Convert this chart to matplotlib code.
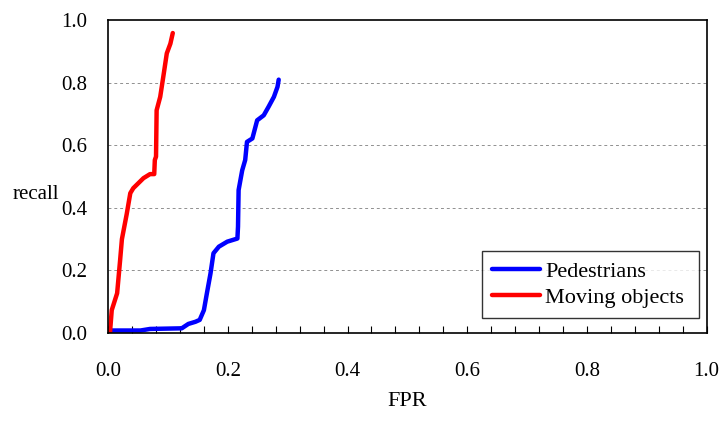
import matplotlib
matplotlib.use("Agg")
import matplotlib.pyplot as plt
import numpy as np

# FPR / recall
ped_fpr = [0.003, 0.054, 0.070, 0.123, 0.134, 0.146, 0.153, 0.160, 0.165, 0.171,
           0.176, 0.185, 0.199, 0.216, 0.217, 0.218, 0.224, 0.229, 0.232, 0.241,
           0.249, 0.260, 0.268, 0.277, 0.283, 0.285]
ped_recall = [0.008, 0.008, 0.013, 0.015, 0.029, 0.036, 0.042, 0.073, 0.127, 0.190,
              0.255, 0.276, 0.292, 0.302, 0.340, 0.457, 0.520, 0.553, 0.611, 0.622,
              0.680, 0.696, 0.723, 0.755, 0.787, 0.810]

mov_fpr = [0.003, 0.006, 0.015, 0.020, 0.023, 0.031, 0.037, 0.042, 0.059, 0.070,
           0.077, 0.078, 0.080, 0.081, 0.087, 0.093, 0.098, 0.104, 0.108]
mov_recall = [0.0, 0.073, 0.127, 0.233, 0.300, 0.380, 0.447, 0.463, 0.495, 0.508,
              0.508, 0.553, 0.564, 0.712, 0.755, 0.830, 0.894, 0.925, 0.959]

plt.rcParams['font.family'] = ['Liberation Serif', 'DejaVu Serif']

fig = plt.figure(figsize=(7.21, 4.21), dpi=100)
ax = fig.add_axes([0.150, 0.209, 0.830, 0.743])

ax.plot(ped_fpr, ped_recall, color='#0000ff', linewidth=3.2, label='Pedestrians',
        solid_capstyle='round')
ax.plot(mov_fpr, mov_recall, color='#ff0000', linewidth=3.2, label='Moving objects ',
        solid_capstyle='round')

ax.set_xlim(0, 1)
ax.set_ylim(0, 1)
ax.set_xticks(np.arange(0, 1.01, 0.2))
ax.set_xticks(np.arange(0, 1.001, 0.04), minor=True)
ax.set_yticks(np.arange(0, 1.01, 0.2))
ax.xaxis.set_major_formatter(plt.FormatStrFormatter('%.1f'))
ax.yaxis.set_major_formatter(plt.FormatStrFormatter('%.1f'))

ax.tick_params(axis='x', which='both', direction='in', length=5, width=0.8,
               labelsize=15, pad=21, colors='black')
ax.tick_params(axis='y', which='both', length=0, labelsize=15, pad=15)

for y in [0.2, 0.4, 0.6, 0.8]:
    ax.axhline(y, color='#909090', linestyle=(0, (3, 3)), linewidth=0.7, zorder=0)

for s in ax.spines.values():
    s.set_linewidth(1.2)
    s.set_color('black')

ax.set_xlabel('FPR', fontsize=16, labelpad=8)
fig.text(0.018, 0.537, 'recall', fontsize=15, ha='left', va='center')

leg = ax.legend(loc='lower right', bbox_to_anchor=(0.988, 0.048), borderaxespad=0,
                fontsize=16, frameon=True, fancybox=False, edgecolor='black',
                handlelength=2.2, handletextpad=0.2, borderpad=0.45, labelspacing=0.25)
leg.get_frame().set_linewidth(1.0)

fig.savefig('out.png', dpi=100)
